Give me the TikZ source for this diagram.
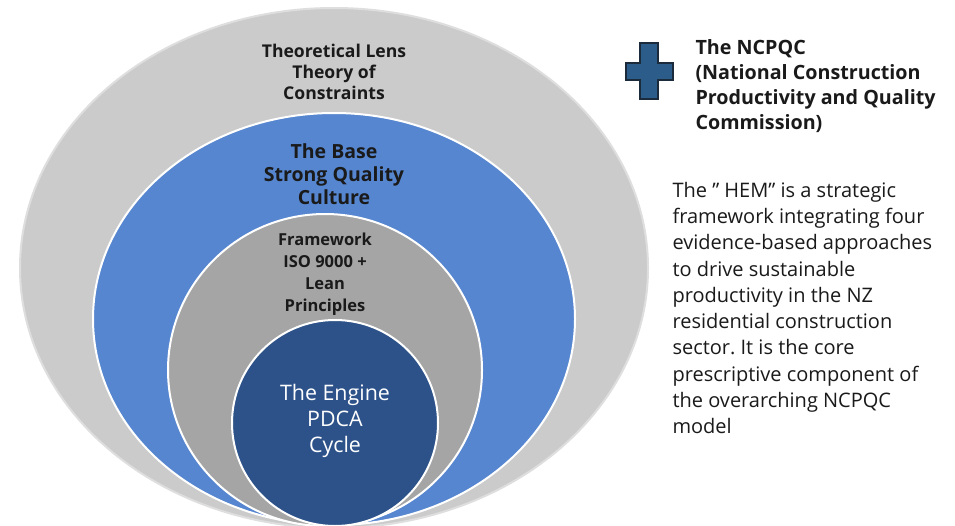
\documentclass[tikz,border=0pt]{standalone}
\usepackage{fontspec}
\setmainfont{Open Sans}
\frenchspacing

\definecolor{lensgray}{HTML}{CBCBCB}
\definecolor{lensedge}{HTML}{DEDEDE}
\definecolor{baseblue}{HTML}{5686D0}
\definecolor{framegray}{HTML}{A5A5A5}
\definecolor{enginenavy}{HTML}{2D5289}
\definecolor{plusblue}{HTML}{2B5C8A}
\definecolor{plusedge}{HTML}{1C2B3C}
\definecolor{txt}{HTML}{1A1A1A}

\begin{document}
\begin{tikzpicture}[x=1pt,y=-1pt,
  ring/.style={draw=white,line width=2pt},
  ringlabel/.style={align=center,text=txt,font=\bfseries\fontsize{17.6}{21}\selectfont}]
\useasboundingbox (0,0) rectangle (955,525);
\clip (0,0) rectangle (955,525);
\fill[white] (0,0) rectangle (955,525);

% nested rings, outermost first
\draw[ring,draw=lensedge,fill=lensgray] (334,268) ellipse [x radius=314,y radius=260];
\draw[ring,fill=baseblue] (334,319) ellipse [x radius=241,y radius=206];
\draw[ring,fill=framegray] (325,370) ellipse [x radius=157,y radius=156];
\draw[ring,fill=enginenavy] (335,423) ellipse [x radius=103,y radius=103];

\node[ringlabel] (lens) at (334,72) {Theoretical Lens\\Theory of\\Constraints};
\node[ringlabel,font=\bfseries\fontsize{19.5}{23}\selectfont] (base) at (334,174) {The Base\\Strong Quality\\Culture};
\node[ringlabel,font=\bfseries\fontsize{16.5}{22}\selectfont] (frame) at (325,274) {Framework\\ISO 9000 +\\Lean\\Principles};
\node[ringlabel,text=white,font=\fontsize{21.4}{26}\selectfont] (engine) at (335,421) {The Engine\\PDCA\\Cycle};

% plus sign
\draw[fill=plusblue,draw=plusedge,line width=1.5pt]
  (640,43) -- (658,43) -- (658,63) -- (673,63) -- (673,80) -- (658,80) -- (658,99)
  -- (640,99) -- (640,80) -- (626,80) -- (626,63) -- (640,63) -- cycle;

\node[anchor=west,align=left,text=txt,font=\bfseries\fontsize{19.7}{25}\selectfont] (ncpqc) at (692,86)
  {The NCPQC\\(National Construction\\Productivity and Quality\\Commission)};

\node[anchor=west,align=left,text=txt,font=\fontsize{20}{26.3}\selectfont] (hem) at (669,308)
  {The ” HEM” is a strategic\\framework integrating four\\evidence-based approaches\\to drive sustainable\\productivity in the NZ\\residential construction\\sector. It is the core\\prescriptive component of\\the overarching NCPQC\\model};
\end{tikzpicture}
\end{document}
